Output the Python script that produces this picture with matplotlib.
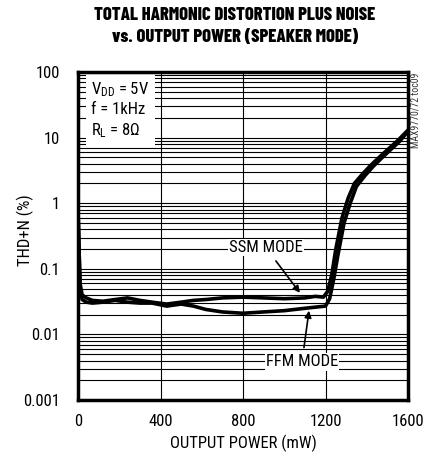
import matplotlib
matplotlib.use("Agg")
import matplotlib.pyplot as plt
from matplotlib.ticker import FixedLocator, NullFormatter, FixedFormatter

plt.rcParams['font.family'] = ['Roboto Condensed', 'DejaVu Sans']
plt.rcParams['mathtext.fontset'] = 'custom'
plt.rcParams['mathtext.rm'] = 'Roboto Condensed'

ssm_x = [0, 5, 10, 20, 40, 70, 120, 180, 240, 300, 360, 430, 500, 560, 620, 700, 800, 900,
         1000, 1100, 1150, 1190, 1210, 1230, 1250, 1280, 1310, 1340, 1380, 1420, 1460, 1500, 1550, 1600]
ssm_y = [0.8, 0.2, 0.06, 0.04, 0.036, 0.033, 0.032, 0.034, 0.036, 0.033, 0.031, 0.029, 0.031,
         0.033, 0.034, 0.036, 0.037, 0.036, 0.035, 0.036, 0.038, 0.037, 0.045, 0.08, 0.2, 0.6,
         1.2, 2.0, 2.8, 3.8, 5.0, 6.5, 9.0, 13]
ffm_x = [0, 5, 10, 20, 40, 70, 120, 180, 240, 300, 360, 430, 500, 560, 620, 700, 800, 900,
         1000, 1100, 1150, 1200, 1220, 1240, 1260, 1290, 1320, 1350, 1390, 1430, 1470, 1510, 1560, 1600]
ffm_y = [0.8, 0.2, 0.05, 0.034, 0.031, 0.030, 0.031, 0.033, 0.031, 0.030, 0.030, 0.027, 0.029,
         0.027, 0.024, 0.022, 0.021, 0.022, 0.023, 0.025, 0.026, 0.027, 0.035, 0.07, 0.16, 0.5,
         1.0, 1.8, 2.6, 3.6, 4.8, 6.3, 8.8, 12.5]

x_ticks = [0, 400, 800, 1200, 1600]
y_ticks = [0.001, 0.01, 0.1, 1, 10, 100]
y_labels = ['0.001', '0.01', '0.1', '1', '10', '100']

fig = plt.figure(figsize=(4.48, 4.58), dpi=100)
ax = fig.add_axes([78/448, 1-400/458, 330/448, 328/458])

ax.set_yscale('log')
ax.set_xlim(0, 1600)
ax.set_ylim(0.001, 100)

minor = [m * 10.0**e for e in range(-3, 2) for m in range(2, 10)]
for v in minor + y_ticks[1:-1]:
    ax.axhline(v, color='black', lw=0.8, zorder=1)
for v in x_ticks[1:-1]:
    ax.axvline(v, color='black', lw=0.8, zorder=1)

ax.plot(ssm_x, ssm_y, color='black', lw=2.6, zorder=3, solid_joinstyle='round')
ax.plot(ffm_x, ffm_y, color='black', lw=2.6, zorder=3, solid_joinstyle='round')

ax.set_xticks(x_ticks)
ax.yaxis.set_major_locator(FixedLocator(y_ticks))
ax.yaxis.set_major_formatter(FixedFormatter(y_labels))
ax.yaxis.set_minor_formatter(NullFormatter())
ax.tick_params(which='both', length=0, labelsize=12)
ax.tick_params(axis='y', pad=13)
ax.tick_params(axis='x', pad=10)
for s in ax.spines.values():
    s.set_linewidth(2.5)

ax.set_xlabel('OUTPUT POWER (mW)', fontsize=12, labelpad=4)
ax.set_ylabel('THD+N (%)', fontsize=12)
ax.yaxis.set_label_coords(-0.133, 0.518)

title_font = ['Barlow Condensed', 'Roboto Condensed', 'DejaVu Sans']
fig.text(235/448, 1-15/458, 'TOTAL HARMONIC DISTORTION PLUS NOISE', ha='center', va='center',
         fontsize=13.3, fontweight='heavy', family=title_font)
fig.text(235/448, 1-37/458, 'vs. OUTPUT POWER (SPEAKER MODE)', ha='center', va='center',
         fontsize=13.3, fontweight='heavy', family=title_font)

ax.text(0.04, 0.975, '$\\mathregular{V_{DD}}$ = 5V\nf = 1kHz\n$\\mathregular{R_L}$ = 8Ω',
        transform=ax.transAxes, ha='left', va='top', fontsize=12, linespacing=1.3,
        bbox=dict(facecolor='white', edgecolor='none', pad=4), zorder=5)

ax.annotate('SSM MODE', xy=(1076, 0.043), xytext=(911, 0.21), ha='center', va='center',
            fontsize=12, zorder=5,
            bbox=dict(facecolor='white', edgecolor='none', pad=1),
            arrowprops=dict(arrowstyle='-|>', color='black', lw=1.2, shrinkA=4, shrinkB=0,
                            mutation_scale=10))
ax.annotate('FFM MODE', xy=(1120, 0.023), xytext=(1086, 0.0038), ha='center', va='center',
            fontsize=12, zorder=5,
            bbox=dict(facecolor='white', edgecolor='none', pad=1),
            arrowprops=dict(arrowstyle='-|>', color='black', lw=1.2, shrinkA=4, shrinkB=0,
                            mutation_scale=10))

fig.text(415/448, 1-110/458, 'MAX9770/72 toc09', rotation=90, ha='center', va='center',
         fontsize=7, color='#333333')

fig.savefig('out.png', dpi=100)
